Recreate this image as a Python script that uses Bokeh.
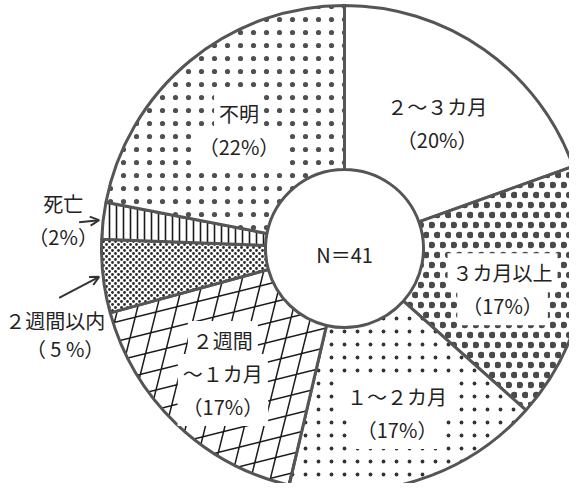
import math
import base64
from bokeh.plotting import figure
from bokeh.models import Range1d, Label, Arrow, OpenHead, ImageURLTexture
from bokeh.core.properties import value
from bokeh.embed import file_html
from bokeh.resources import INLINE

# ---- data ----
categories = ["２～３カ月", "３カ月以上", "１～２カ月", "２週間～１カ月", "２週間以内", "死亡", "不明"]
counts = [8, 7, 7, 7, 2, 1, 9]
percents = [20, 17, 17, 17, 5, 2, 22]
pct_labels = ["（20%）", "（17%）", "（17%）", "（17%）", "（ 5 %）", "（2%）", "（22%）"]
total_label = "N＝41"

# ---- styles (texture tiles) ----
def svg_url(body, w, h):
    svg = (f'<svg xmlns="http://www.w3.org/2000/svg" width="{w}" height="{h}" '
           f'viewBox="0 0 {w} {h}">{body}</svg>')
    return "data:image/svg+xml;base64," + base64.b64encode(svg.encode()).decode()

def dot_tile(w, h, r, color, stagger=True):
    if stagger:
        body = (f'<circle cx="{w*0.25}" cy="{h*0.25}" r="{r}" fill="{color}"/>'
                f'<circle cx="{w*0.75}" cy="{h*0.75}" r="{r}" fill="{color}"/>')
    else:
        body = f'<circle cx="{w*0.5}" cy="{h*0.5}" r="{r}" fill="{color}"/>'
    return ImageURLTexture(url=svg_url(body, w, h))

def grid_tile(s, wid, color):
    q = s / 4
    segs = []
    for k in range(-1, 7):
        c = k * q
        segs.append(f'M0 {c} L{s} {c - q}')
        segs.append(f'M{c} 0 L{c - q} {s}')
    body = f'<path d="{" ".join(segs)}" stroke="{color}" stroke-width="{wid}" fill="none"/>'
    return ImageURLTexture(url=svg_url(body, s, s))

textures = {
    "dots_big": dot_tile(11, 20, 3.3, "#4a4a4a"),
    "dots_small": dot_tile(13, 13, 1.9, "#333333", stagger=False),
    "grid": grid_tile(78, 1.5, "#1a1a1a"),
    "dots_fine": dot_tile(6, 6, 1.4, "#2a2a2a"),
    "dots_mid": dot_tile(13, 13, 2.6, "#505050", stagger=False),
}

hatch_patterns = [" ", "dots_big", "dots_small", "grid", "dots_fine", "vertical_line", "dots_mid"]
hatch_scales = [10, 15, 13, 78, 6, 7, 13]
hatch_weights = [1, 1, 1, 1, 1, 1.6, 1]
hatch_colors = ["#555555", "#555555", "#444444", "#1a1a1a", "#2a2a2a", "#1a1a1a", "#5a5a5a"]
outside = [False, False, False, False, True, True, False]
label_nudge = [(0, -6), (0, -10), (4, -11), (-10, -9), (0, 0), (0, 0), (-3, -6)]
# outside: (text dx, text dy, pct dx, pct dy, arrow start dx, arrow start dy)
out_layout = {5: (-36, 17, -36, -16, -20, -2), 4: (-44, -44, -34, -72, -40, -21)}

FONT = "Noto Sans CJK JP"
TXT = "#222222"
GREY = "#555555"

W, H = 569, 483
CX, CY = 352, 243
R_IN, R_OUT = 79, 243

p = figure(width=W, height=H, x_range=Range1d(8, 8 + W), y_range=Range1d(8, 8 + H),
           output_backend="svg", toolbar_location=None, x_axis_type=None, y_axis_type=None,
           min_border=0, outline_line_color=None, background_fill_color="white")
p.xgrid.visible = False
p.ygrid.visible = False

total = sum(counts)
cum = 0
mids = []
for i, c in enumerate(counts):
    t0 = cum / total * 2 * math.pi
    t1 = (cum + c) / total * 2 * math.pi
    cum += c
    mids.append((t0 + t1) / 2)
    p.annular_wedge(x=CX, y=CY, inner_radius=R_IN, outer_radius=R_OUT,
                    start_angle=math.pi / 2 - t0, end_angle=math.pi / 2 - t1, direction="clock",
                    fill_color="white", line_color=GREY, line_width=3,
                    hatch_pattern=value(hatch_patterns[i]), hatch_scale=hatch_scales[i],
                    hatch_weight=hatch_weights[i], hatch_color=hatch_colors[i],
                    hatch_extra=textures)

def add_label(x, y, text, pad=5):
    p.add_layout(Label(x=x, y=y, text=text, text_align="center", text_baseline="middle",
                       text_font=FONT, text_font_size="20px", text_color=TXT,
                       background_fill_color="white", padding=pad))

R_MID = (R_IN + R_OUT) / 2
LINE = 33
for i, name in enumerate(categories):
    if outside[i]:
        continue
    lines = name.replace("週間～", "週間\n～").split("\n") + [pct_labels[i]]
    mx = CX + R_MID * math.sin(mids[i]) + label_nudge[i][0]
    my = CY + R_MID * math.cos(mids[i]) + label_nudge[i][1]
    n = len(lines)
    for k, ln in enumerate(lines):
        add_label(mx, my + (n - 1) / 2 * LINE - k * LINE, ln)

# outside labels with arrows
for i, (tdx, tdy, pdx, pdy, adx, ady) in out_layout.items():
    ex = CX + (R_OUT + 4) * math.sin(mids[i])
    ey = CY + (R_OUT + 4) * math.cos(mids[i])
    add_label(ex + tdx, ey + tdy, categories[i], pad=1)
    add_label(ex + pdx, ey + pdy, pct_labels[i], pad=1)
    p.add_layout(Arrow(end=OpenHead(size=9, line_width=2, line_color="#333333"),
                       x_start=ex + adx, y_start=ey + ady, x_end=ex, y_end=ey,
                       line_width=2, line_color="#333333"))

add_label(CX, CY - 6, total_label, pad=1)

open("out.html", "w").write(file_html(p, INLINE))
